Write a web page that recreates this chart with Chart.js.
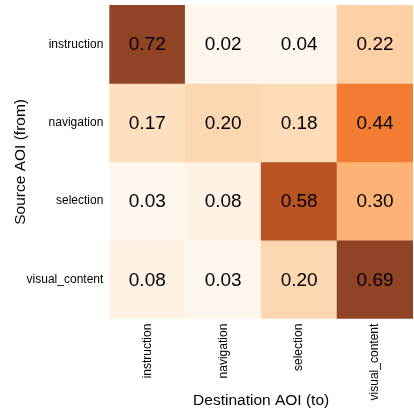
<!DOCTYPE html>
<html>
<head>
<meta charset="utf-8">
<script src="https://cdn.jsdelivr.net/npm/chart.js@4/dist/chart.umd.min.js"></script>
<style>
  body { margin: 0; background: #fff; }
</style>
</head>
<body>
<canvas id="heat" width="414" height="413"></canvas>
<script>
// transition probabilities, rows = source AOI, cols = destination AOI
const sources = ['instruction', 'navigation', 'selection', 'visual_content'];
const destinations = ['instruction', 'navigation', 'selection', 'visual_content'];
const instructionRow = [0.72, 0.02, 0.04, 0.22];
const navigationRow = [0.17, 0.20, 0.18, 0.44];
const selectionRow = [0.03, 0.08, 0.58, 0.30];
const visualContentRow = [0.08, 0.03, 0.20, 0.69];
const rows = [instructionRow, navigationRow, selectionRow, visualContentRow];

// matplotlib "Oranges" stops
const oranges = ['#fff5eb', '#fee6ce', '#fdd0a2', '#fdae6b', '#fd8d3c', '#f16913', '#d94801', '#a63603', '#7f2704'];
const vmin = 0.05;
const vmax = 0.67;

function hexToRgb(h) {
    return [parseInt(h.slice(1, 3), 16), parseInt(h.slice(3, 5), 16), parseInt(h.slice(5, 7), 16)];
}

function cellColor(v) {
    let t = Math.min(1, Math.max(0, (v - vmin) / (vmax - vmin))) * (oranges.length - 1);
    let i = Math.min(oranges.length - 2, Math.floor(t));
    let f = t - i;
    let a = hexToRgb(oranges[i]), b = hexToRgb(oranges[i + 1]);
    let alpha = 0.87;
    let c = a.map((x, k) => Math.round(alpha * (x + (b[k] - x) * f) + (1 - alpha) * 255));
    return 'rgb(' + c.join(',') + ')';
}

// each source row becomes one dataset of floating bars spanning [row, row + 1]
let datasets = rows.map((vals, r) => ({
    label: sources[r],
    data: vals.map(() => [r, r + 1]),
    values: vals,
    backgroundColor: vals.map(v => cellColor(v)),
    borderWidth: 0,
    barPercentage: 1,
    categoryPercentage: 1,
    grouped: false
}));

// write the value in the middle of each cell
const cellText = {
    id: 'cellText',
    afterDatasetsDraw(chart) {
        const ctx = chart.ctx;
        ctx.save();
        ctx.fillStyle = '#000';
        ctx.font = '19px "Liberation Sans", Arial, sans-serif';
        ctx.textAlign = 'center';
        ctx.textBaseline = 'middle';
        chart.data.datasets.forEach((ds, d) => {
            chart.getDatasetMeta(d).data.forEach((el, i) => {
                const p = el.getCenterPoint();
                ctx.fillText(ds.values[i].toFixed(2), p.x, p.y + 1);
            });
        });
        ctx.restore();
    }
};

Chart.defaults.font.family = '"Liberation Sans", Arial, sans-serif';
Chart.defaults.color = '#000';

const ctx = document.getElementById('heat').getContext('2d');
window.heatChart = new Chart(ctx, {
    type: 'bar',
    data: {
        labels: destinations,
        datasets: datasets
    },
    options: {
        responsive: false,
        animation: false,
        layout: { padding: { top: 5, right: 1, bottom: 3, left: 11 } },
        plugins: {
            legend: { display: false },
            tooltip: { enabled: false }
        },
        scales: {
            x: {
                grid: { display: false, drawTicks: false },
                border: { display: false },
                afterFit: axis => {
                    axis.paddingLeft = 0;
                    axis.paddingRight = 0;
                },
                ticks: {
                    minRotation: 90,
                    maxRotation: 90,
                    padding: 5,
                    font: { size: 12 }
                },
                title: {
                    display: true,
                    text: 'Destination AOI (to)',
                    font: { size: 15.5 },
                    padding: { top: -14, bottom: 0 }
                }
            },
            y: {
                min: 0,
                max: 4,
                reverse: true,
                grid: { display: false, drawTicks: false },
                border: { display: false },
                afterBuildTicks: axis => {
                    axis.ticks = sources.map((s, i) => ({ value: i + 0.5 }));
                },
                afterFit: axis => {
                    axis.paddingTop = 0;
                    axis.paddingBottom = 0;
                },
                ticks: {
                    padding: 6,
                    font: { size: 12 },
                    callback: (val, idx) => sources[idx]
                },
                title: {
                    display: true,
                    text: 'Source AOI (from)',
                    font: { size: 15.5 },
                    padding: { top: 0, bottom: -9 }
                }
            }
        }
    },
    plugins: [cellText]
});
</script>
</body>
</html>
